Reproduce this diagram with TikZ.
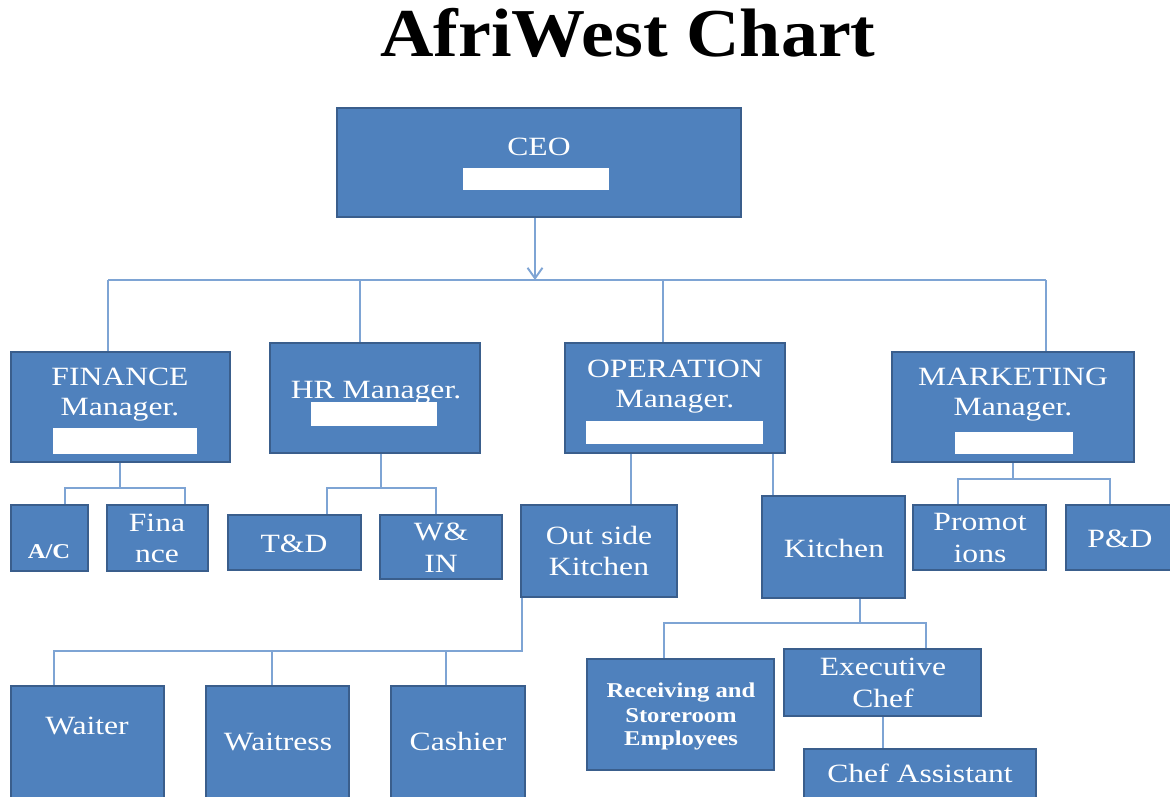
\documentclass[tikz,border=0pt]{standalone}
\usepackage{fontspec}
\usepackage{graphicx}
\setmainfont{Liberation Serif}
\usetikzlibrary{fit,arrows.meta}

\definecolor{boxblue}{HTML}{4F81BD}
\definecolor{boxedge}{HTML}{3A5E8C}
\definecolor{linkblue}{HTML}{7EA4D4}

\newcommand{\wtxt}[1]{\scalebox{1.2}[1]{#1}}
\newcommand{\btxt}[1]{\scalebox{1.17}[1]{#1}}

\tikzset{
  box/.style={draw=boxedge, line width=1.2pt, fill=boxblue, inner sep=0pt},
  txt/.style={text=white, anchor=base, inner sep=0pt, font=\fontsize{15}{15}\selectfont},
  smalltxt/.style={text=white, anchor=base, inner sep=0pt, font=\bfseries\fontsize{12}{12}\selectfont},
  link/.style={draw=linkblue, line width=1.1pt}
}

\begin{document}
\begin{tikzpicture}[x=0.02cm, y=-0.02cm]
    \useasboundingbox (0,0) rectangle (1170,796);
    \clip (0,0) rectangle (1170,796);

    \node[anchor=base, inner sep=0pt, font=\bfseries\fontsize{39}{39}\selectfont] (title) at (628,56) {\scalebox{1.08}[1]{AfriWest Chart}};

    \node[box, fit={(337,108) (741,217)}] (ceo) {};
    \node[box, fit={(11,352) (230,462)}] (fin) {};
    \node[box, fit={(270,343) (480,453)}] (hr) {};
    \node[box, fit={(565,343) (785,453)}] (op) {};
    \node[box, fit={(892,352) (1134,462)}] (mkt) {};

    \node[box, fit={(11,505) (88,571)}] (ac) {};
    \node[box, fit={(107,505) (208,571)}] (fina) {};
    \node[box, fit={(228,515) (361,570)}] (td) {};
    \node[box, fit={(380,515) (502,579)}] (win) {};
    \node[box, fit={(521,505) (677,597)}] (osk) {};
    \node[box, fit={(762,496) (905,598)}] (kit) {};
    \node[box, fit={(913,505) (1046,570)}] (prom) {};
    \node[box, fit={(1066,505) (1190,570)}] (pd) {};

    \node[box, fit={(11,686) (164,830)}] (waiter) {};
    \node[box, fit={(206,686) (349,830)}] (waitress) {};
    \node[box, fit={(391,686) (525,830)}] (cashier) {};
    \node[box, fit={(587,659) (774,770)}] (recv) {};
    \node[box, fit={(784,649) (981,716)}] (exec) {};
    \node[box, fit={(804,749) (1036,830)}] (chef) {};

    \fill[white] (463,168) rectangle (609,190);
    \fill[white] (53,428) rectangle (197,454);
    \fill[white] (311,402) rectangle (437,426);
    \fill[white] (586,421) rectangle (763,444);
    \fill[white] (955,432) rectangle (1073,454);

    \coordinate (top) at (535,280);
    \coordinate (b1) at (108,280);
    \coordinate (b2) at (360,280);
    \coordinate (b3) at (663,280);
    \coordinate (b4) at (1046,280);
    \draw[link, -{Straight Barb[length=6pt,width=8.5pt]}] (ceo.south -| top) -- (top);
    \draw[link] (b1) -- (b4);
    \draw[link] (b1) -- (b1 |- fin.north);
    \draw[link] (b2) -- (b2 |- hr.north);
    \draw[link] (b3) -- (b3 |- op.north);
    \draw[link] (b4) -- (b4 |- mkt.north);

    \coordinate (f0) at (120,488);
    \coordinate (f1) at (65,488);
    \coordinate (f2) at (185,488);
    \draw[link] (fin.south -| f0) -- (f0);
    \draw[link] (f1 |- ac.north) |- (f2) -- (f2 |- fina.north);

    \coordinate (h0) at (381,488);
    \coordinate (h1) at (327,488);
    \coordinate (h2) at (436,488);
    \draw[link] (hr.south -| h0) -- (h0);
    \draw[link] (h1 |- td.north) |- (h2) -- (h2 |- win.north);

    \coordinate (o1) at (631,0);
    \coordinate (o2) at (773,0);
    \draw[link] (op.south -| o1) -- (osk.north -| o1);
    \draw[link] (op.south -| o2) -- (kit.north -| o2);

    \coordinate (m0) at (1013,479);
    \coordinate (m1) at (958,479);
    \coordinate (m2) at (1110,479);
    \draw[link] (mkt.south -| m0) -- (m0);
    \draw[link] (m1 |- prom.north) |- (m2) -- (m2 |- pd.north);

    \coordinate (s0) at (522,651);
    \coordinate (s1) at (54,651);
    \coordinate (s2) at (272,651);
    \coordinate (s3) at (446,651);
    \draw[link] (osk.south -| s0) -- (s0) -- (s1) -- (s1 |- waiter.north);
    \draw[link] (s2) -- (s2 |- waitress.north);
    \draw[link] (s3) -- (s3 |- cashier.north);

    \coordinate (k0) at (860,623);
    \coordinate (k1) at (664,623);
    \coordinate (k2) at (926,623);
    \draw[link] (kit.south -| k0) -- (k0);
    \draw[link] (k1 |- recv.north) |- (k2) -- (k2 |- exec.north);

    \coordinate (e0) at (883,0);
    \draw[link] (exec.south -| e0) -- (chef.north -| e0);

    \node[txt] (ceo1) at (539,155) {\wtxt{CEO}};
    \node[txt] (fin1) at (120,385) {\wtxt{FINANCE}};
    \node[txt] (fin2) at (120,415) {\wtxt{Manager.}};
    \node[txt] (hr1) at (376,398) {\wtxt{HR Manager.}};
    \node[txt] (op1) at (675,377) {\wtxt{OPERATION}};
    \node[txt] (op2) at (675,407) {\wtxt{Manager.}};
    \node[txt] (mkt1) at (1013,385) {\wtxt{MARKETING}};
    \node[txt] (mkt2) at (1013,415) {\wtxt{Manager.}};

    \node[smalltxt] (ac1) at (49,558) {\btxt{A/C}};
    \node[txt] (fina1) at (157,531) {\wtxt{Fina}};
    \node[txt] (fina2) at (157,562) {\wtxt{nce}};
    \node[txt] (td1) at (294,552) {\wtxt{T\&D}};
    \node[txt] (win1) at (441,540) {\wtxt{W\&}};
    \node[txt] (win2) at (441,572) {\wtxt{IN}};
    \node[txt] (osk1) at (599,544) {\wtxt{Out side}};
    \node[txt] (osk2) at (599,575) {\wtxt{Kitchen}};
    \node[txt] (kit1) at (834,557) {\wtxt{Kitchen}};
    \node[txt] (prom1) at (980,530) {\wtxt{Promot}};
    \node[txt] (prom2) at (980,562) {\wtxt{ions}};
    \node[txt] (pd1) at (1120,547) {\wtxt{P\&D}};

    \node[txt] (waiter1) at (87,734) {\wtxt{Waiter}};
    \node[txt] (waitress1) at (278,750) {\wtxt{Waitress}};
    \node[txt] (cashier1) at (458,750) {\wtxt{Cashier}};
    \node[smalltxt] (recv1) at (681,697) {\btxt{Receiving and}};
    \node[smalltxt] (recv2) at (681,722) {\btxt{Storeroom}};
    \node[smalltxt] (recv3) at (681,745) {\btxt{Employees}};
    \node[txt] (exec1) at (883,675) {\wtxt{Executive}};
    \node[txt] (exec2) at (883,707) {\wtxt{Chef}};
    \node[txt] (chef1) at (920,782) {\wtxt{Chef Assistant}};
\end{tikzpicture}
\end{document}
